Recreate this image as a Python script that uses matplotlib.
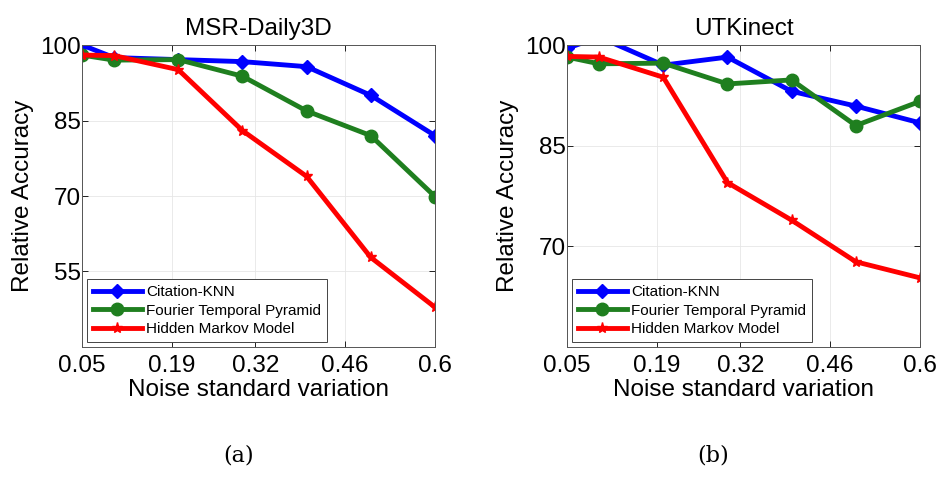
import matplotlib
matplotlib.use("Agg")
import matplotlib.pyplot as plt

plt.rcParams['font.family'] = ['Liberation Sans', 'DejaVu Sans']

noise = [0.05, 0.1, 0.2, 0.3, 0.4, 0.5, 0.6]
xticks = [0.05, 0.19, 0.32, 0.46, 0.6]
xticklabels = ["0.05", "0.19", "0.32", "0.46", "0.6"]

methods = ["Citation-KNN", "Fourier Temporal Pyramid", "Hidden Markov Model"]

# MSR-Daily3D
msr_knn = [100.0, 97.5, 97.1, 96.7, 95.7, 90.0, 82.0]
msr_ftp = [98.0, 97.0, 97.1, 93.8, 86.9, 82.0, 69.9]
msr_hmm = [98.0, 97.9, 95.1, 83.0, 73.9, 57.8, 47.9]
msr_yticks = [55, 70, 85, 100]

# UTKinect
utk_knn = [99.5, 101.2, 97.0, 98.2, 93.1, 90.9, 88.4]
utk_ftp = [98.2, 97.2, 97.3, 94.2, 94.8, 88.0, 91.6]
utk_hmm = [98.3, 98.2, 95.2, 79.5, 73.9, 67.7, 65.3]
utk_yticks = [70, 85, 100]

styles = [
    dict(color="#0000ff", marker="D", markersize=7),
    dict(color="#1f7f1f", marker="o", markersize=9),
    dict(color="#ff0000", marker="*", markersize=8),
]

fig = plt.figure(figsize=(9.38, 4.83), dpi=100)
ax1 = fig.add_axes([0.0874, 0.2816, 0.3763, 0.6252])
ax2 = fig.add_axes([0.6045, 0.2816, 0.3763, 0.6252])


def draw(ax, title, series, ylim, yticks):
    for name, vals, st in zip(methods, series, styles):
        ax.plot(noise, vals, linewidth=3.5, label=name, clip_on=True,
                markeredgewidth=1.0, markeredgecolor=st["color"], **st)
    ax.set_xlim(0.05, 0.6)
    ax.set_ylim(*ylim)
    ax.set_xticks(xticks)
    ax.set_xticklabels(xticklabels)
    ax.set_yticks(yticks)
    ax.tick_params(direction="in", labelsize=17.5, length=4, width=0.6,
                   top=True, right=True)
    ax.tick_params(axis="x", pad=6)
    ax.tick_params(axis="y", pad=1)
    ax.grid(True, color="#e6e6e6", linewidth=0.6)
    ax.set_axisbelow(True)
    for sp in ax.spines.values():
        sp.set_linewidth(0.7)
        sp.set_color("#555555")
    ax.set_title(title, fontsize=17.5, pad=7)
    ax.set_xlabel("Noise standard variation", fontsize=17.5, labelpad=1)
    ax.set_ylabel("Relative Accuracy", fontsize=17.5, labelpad=4)
    leg = ax.legend(loc="lower left", fontsize=11, handlelength=3.2,
                    fancybox=False, edgecolor="#444444", framealpha=1,
                    borderaxespad=0.3, labelspacing=0.3, handletextpad=0.3,
                    borderpad=0.4)
    leg.get_frame().set_linewidth(0.7)


draw(ax1, "MSR-Daily3D", [msr_knn, msr_ftp, msr_hmm], (40, 100), msr_yticks)
draw(ax2, "UTKinect", [utk_knn, utk_ftp, utk_hmm], (55, 100), utk_yticks)

fig.text(0.2548, 0.035, "(a)", fontsize=16, family="DejaVu Serif",
         ha="center", va="bottom")
fig.text(0.7601, 0.035, "(b)", fontsize=16, family="DejaVu Serif",
         ha="center", va="bottom")

fig.savefig("out.png", dpi=100)
